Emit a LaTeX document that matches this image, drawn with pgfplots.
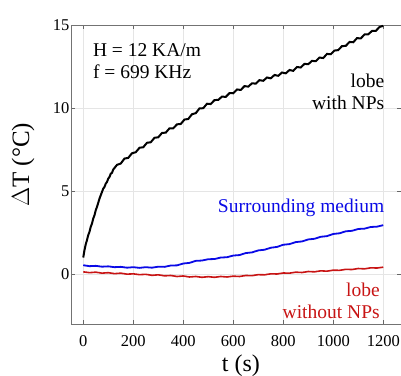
\documentclass[border=0pt]{standalone}
\usepackage{fontspec}
\setmainfont{Liberation Serif}
\usepackage{pgfplots}
\pgfplotsset{compat=1.18}
\definecolor{myblue}{RGB}{10,10,230}
\definecolor{myred}{RGB}{200,20,20}
\begin{document}
\begin{tikzpicture}
\begin{axis}[
  scale only axis,
  width=330pt, height=299pt,
  xmin=-49, xmax=1271, ymin=-3, ymax=15,
  xtick={0,200,...,1200}, ytick={0,5,10,15},
  tick align=inside, major tick length=4pt,
  tick style={black!60, line width=0.6pt},
  axis line style={black!55, line width=0.8pt},
  grid=major, grid style={black!10, line width=0.5pt},
  /pgf/number format/assume math mode=true,
  /pgf/number format/1000 sep={},
  ticklabel style={font=\fontsize{16.5}{17}\selectfont},
  xticklabel style={yshift=-8pt},
  yticklabel style={xshift=2pt},
  xlabel={t (s)}, ylabel={$\Delta$T (°C)},
  xlabel style={font=\fontsize{24}{24}\selectfont, at={(axis description cs:0.515,-0.138)}, anchor=center},
  ylabel style={font=\fontsize{25}{25}\selectfont, at={(axis description cs:-0.145,0.532)}, anchor=center},
  clip=false,
]
\addplot[black, line width=2pt] coordinates {
(0,1.0) (5,1.45) (10,1.8) (15,2.05) (20,2.35) (25,2.55) (30,2.85) (35,3.05) (40,3.35) (45,3.55) (50,3.85) (55,4.05) (60,4.3) (65,4.55) (70,4.75) (75,4.95) (80,5.15) (85,5.25) (90,5.45) (95,5.55) (100,5.75) (105,5.85) (110,6.05) (115,6.1) (120,6.3)
(135,6.58) (150,6.66) (165,6.96) (180,7.0) (195,7.28) (210,7.34) (225,7.61) (240,7.64) (255,7.91) (270,7.94) (285,8.21) (300,8.24) (315,8.5) (330,8.52) (345,8.78) (360,8.78) (375,9.02) (390,9.04) (405,9.31) (420,9.34) (435,9.63) (450,9.69) (465,9.98) (480,9.99) (495,10.26) (510,10.24) (525,10.48) (540,10.49) (555,10.69) (570,10.67) (585,10.9) (600,10.89) (615,11.12) (630,11.09) (645,11.32) (660,11.29) (675,11.49) (690,11.47) (705,11.68) (720,11.64) (735,11.84) (750,11.79) (765,11.99) (780,11.94) (795,12.14) (810,12.09) (825,12.29) (840,12.24) (855,12.47) (870,12.44) (885,12.66) (900,12.64) (915,12.84) (930,12.82) (945,13.04) (960,13.01) (975,13.26) (990,13.24) (1005,13.46) (1020,13.49) (1035,13.73) (1050,13.74) (1065,13.98) (1080,13.96) (1095,14.21) (1110,14.19) (1125,14.43) (1140,14.44) (1155,14.64) (1170,14.64) (1185,14.88) (1200,14.95)
};
\addplot[myblue, line width=1.8pt] coordinates {
(0,0.54) (25,0.48) (50,0.5) (75,0.45) (100,0.47) (125,0.42) (150,0.44) (175,0.39) (200,0.42) (225,0.38) (250,0.42) (275,0.39) (300,0.45) (325,0.44) (350,0.52) (375,0.53) (400,0.64) (425,0.68) (450,0.8) (475,0.82) (500,0.9) (525,0.91) (550,1.0) (575,1.02) (600,1.12) (625,1.15) (650,1.27) (675,1.31) (700,1.43) (725,1.47) (750,1.59) (775,1.64) (800,1.77) (825,1.81) (850,1.93) (875,1.97) (900,2.09) (925,2.13) (950,2.25) (975,2.29) (1000,2.42) (1025,2.46) (1050,2.58) (1075,2.61) (1100,2.72) (1125,2.74) (1150,2.84) (1175,2.86) (1200,2.95)
};
\addplot[myred, line width=1.6pt] coordinates {
(0,0.14) (25,0.09) (50,0.12) (75,0.06) (100,0.09) (125,0.03) (150,0.06) (175,0.0) (200,0.02) (225,-0.03) (250,-0.01) (275,-0.07) (300,-0.04) (325,-0.1) (350,-0.08) (375,-0.14) (400,-0.11) (425,-0.17) (450,-0.14) (475,-0.19) (500,-0.15) (525,-0.19) (550,-0.14) (575,-0.17) (600,-0.12) (625,-0.14) (650,-0.08) (675,-0.09) (700,-0.03) (725,-0.04) (750,0.02) (775,0.01) (800,0.07) (825,0.06) (850,0.12) (875,0.1) (900,0.16) (925,0.14) (950,0.2) (975,0.18) (1000,0.24) (1025,0.23) (1050,0.29) (1075,0.28) (1100,0.34) (1125,0.32) (1150,0.38) (1175,0.37) (1200,0.42)
};
\node[anchor=west, font=\fontsize{19.5}{22}\selectfont, align=left] at (axis cs:25,12.8) {H = 12 KA/m\\f = 699 KHz};
\node[anchor=east, font=\fontsize{19.5}{22}\selectfont, align=right] at (axis cs:1218,11.0) {lobe\\with NPs};
\node[anchor=east, font=\fontsize{19.5}{22}\selectfont, text=myblue] at (axis cs:1218,4.0) {Surrounding medium};
\node[anchor=east, font=\fontsize{19.5}{22}\selectfont, align=right, text=myred] at (axis cs:1200,-1.6) {lobe\\without NPs};
\end{axis}
\pgfresetboundingbox
\path ([xshift=-71pt,yshift=-52pt]current axis.south west) rectangle ([yshift=25pt]current axis.north east);
\end{tikzpicture}
\end{document}
